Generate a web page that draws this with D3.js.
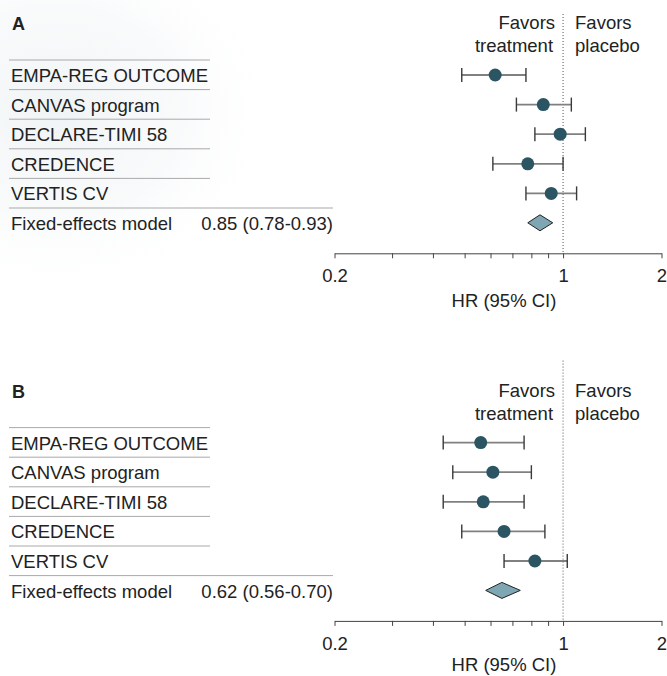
<!DOCTYPE html>
<html>
<head>
<meta charset="utf-8">
<script src="https://cdn.jsdelivr.net/npm/d3@7"></script>
<style>
  body { margin: 0; background: #fff; }
  svg text { font-family: "Liberation Sans", Arial, sans-serif; fill: #222; }
</style>
</head>
<body>
<svg id="chart" width="667" height="676"></svg>
<script>
// trial names, shared by both panels
var trials = ["EMPA-REG OUTCOME", "CANVAS program", "DECLARE-TIMI 58", "CREDENCE", "VERTIS CV"];

// panel A
var hrA = [0.62, 0.87, 0.98, 0.78, 0.92];
var loA = [0.49, 0.72, 0.82, 0.61, 0.77];
var hiA = [0.77, 1.06, 1.17, 1.00, 1.10];
var fixedA = [0.85, 0.78, 0.93];
var fixedTextA = "0.85 (0.78-0.93)";

// panel B
var hrB = [0.56, 0.61, 0.57, 0.66, 0.82];
var loB = [0.43, 0.46, 0.43, 0.49, 0.66];
var hiB = [0.76, 0.80, 0.76, 0.88, 1.03];
var fixedB = [0.65, 0.58, 0.74];
var fixedTextB = "0.62 (0.56-0.70)";

var tickVals = [0.2, 0.3, 0.4, 0.5, 0.6, 0.7, 0.8, 0.9, 1, 2];
var tickLabels = { 0.2: "0.2", 1: "1", 2: "2" };

var svg = d3.select("#chart");

// faint background wash in the upper left
var defs = svg.append("defs");
var grad = defs.append("radialGradient").attr("id", "wash")
    .attr("cx", 0.15).attr("cy", 0.35).attr("r", 0.6);
grad.append("stop").attr("offset", "0%").attr("stop-color", "#edf1f3").attr("stop-opacity", 0.8);
grad.append("stop").attr("offset", "55%").attr("stop-color", "#f3f6f7").attr("stop-opacity", 0.5);
grad.append("stop").attr("offset", "100%").attr("stop-color", "#ffffff").attr("stop-opacity", 0);
svg.append("rect").attr("x", 0).attr("y", 0).attr("width", 380).attr("height", 320)
    .attr("fill", "url(#wash)");

var x = d3.scaleLog().domain([0.2, 2]).range([334.5, 661.5]);

var rowH = 29.6;

function drawPanel(letter, offset, dotTop, titleGap, hr, lo, hi, fixed, fixedText) {
    var g = svg.append("g").attr("transform", "translate(0," + offset + ")");
    var rowTop = 60;
    var nRows = trials.length + 1;
    var axisY = rowTop + nRows * rowH + 15.7;

    g.append("text").attr("x", 12).attr("y", 30)
        .style("font-size", "18px").style("font-weight", "bold").text(letter);

    // row separators
    g.selectAll("line.sep").data(d3.range(nRows)).enter().append("line")
        .attr("class", "sep")
        .attr("x1", 9).attr("x2", function (d) { return d === nRows - 1 ? 333 : 210; })
        .attr("y1", function (d) { return rowTop + d * rowH; })
        .attr("y2", function (d) { return rowTop + d * rowH; })
        .attr("stroke", "#a9a9a9").attr("stroke-width", 1);

    g.selectAll("text.trial").data(trials).enter().append("text")
        .attr("class", "trial")
        .attr("x", 11)
        .attr("y", function (d, i) { return rowTop + i * rowH + 22; })
        .style("font-size", "18.5px")
        .text(function (d) { return d; });

    var fy = rowTop + trials.length * rowH;
    g.append("text").attr("x", 11).attr("y", fy + 22)
        .style("font-size", "18.5px").text("Fixed-effects model");
    g.append("text").attr("x", 333).attr("y", fy + 22).attr("text-anchor", "end")
        .style("font-size", "18.5px").text(fixedText);

    // null line
    g.append("line")
        .attr("x1", x(1)).attr("x2", x(1))
        .attr("y1", dotTop).attr("y2", axisY)
        .attr("stroke", "#555").attr("stroke-width", 1)
        .attr("stroke-dasharray", "1,2");

    g.append("text").attr("x", x(1) - 8).attr("y", 29).attr("text-anchor", "end")
        .style("font-size", "18.5px").text("Favors");
    g.append("text").attr("x", x(1) - 10).attr("y", 52).attr("text-anchor", "end")
        .style("font-size", "18.5px").text("treatment");
    g.append("text").attr("x", x(1) + 12).attr("y", 29)
        .style("font-size", "18.5px").text("Favors");
    g.append("text").attr("x", x(1) + 12).attr("y", 52)
        .style("font-size", "18.5px").text("placebo");

    var rows = trials.map(function (t, i) {
        return { hr: hr[i], lo: lo[i], hi: hi[i], y: rowTop + i * rowH + 15 };
    });

    // CI whiskers
    g.selectAll("line.ci").data(rows).enter().append("line")
        .attr("class", "ci")
        .attr("x1", function (d) { return x(d.lo); })
        .attr("x2", function (d) { return x(d.hi); })
        .attr("y1", function (d) { return d.y; })
        .attr("y2", function (d) { return d.y; })
        .attr("stroke", "#808080").attr("stroke-width", 1.8);

    var caps = [];
    rows.forEach(function (d) {
        caps.push({ v: d.lo, y: d.y });
        caps.push({ v: d.hi, y: d.y });
    });
    g.selectAll("line.cap").data(caps).enter().append("line")
        .attr("class", "cap")
        .attr("x1", function (d) { return x(d.v); })
        .attr("x2", function (d) { return x(d.v); })
        .attr("y1", function (d) { return d.y - 7; })
        .attr("y2", function (d) { return d.y + 7; })
        .attr("stroke", "#3a3a3a").attr("stroke-width", 1.4);

    g.selectAll("circle.pt").data(rows).enter().append("circle")
        .attr("class", "pt")
        .attr("cx", function (d) { return x(d.hr); })
        .attr("cy", function (d) { return d.y; })
        .attr("r", 6.5)
        .attr("fill", "#2b5563");

    // pooled diamond
    var dy = fy + 14.8;
    var pts = [[x(fixed[1]), dy], [x(fixed[0]), dy - 8], [x(fixed[2]), dy], [x(fixed[0]), dy + 8]];
    g.append("path")
        .attr("d", d3.line()(pts) + "Z")
        .attr("fill", "#7fa6b3").attr("stroke", "#222").attr("stroke-width", 1);

    // axis
    var axis = d3.axisBottom(x)
        .tickValues(tickVals)
        .tickFormat(function (d) { return tickLabels[d] || ""; })
        .tickSize(5).tickSizeOuter(0).tickPadding(11);
    var ag = g.append("g").attr("transform", "translate(0," + axisY + ")").call(axis);
    ag.select(".domain").attr("stroke", "#444");
    ag.selectAll(".tick line").attr("stroke", "#444");
    ag.selectAll(".tick text").style("font-size", "18.5px").attr("fill", "#222");

    g.append("text").attr("x", 504).attr("y", axisY + titleGap).attr("text-anchor", "middle")
        .style("font-size", "18.5px").text("HR (95% CI)");
}

drawPanel("A", 0, 14, 54, hrA, loA, hiA, fixedA, fixedTextA);
drawPanel("B", 367.6, -7, 50, hrB, loB, hiB, fixedB, fixedTextB);
</script>
</body>
</html>
